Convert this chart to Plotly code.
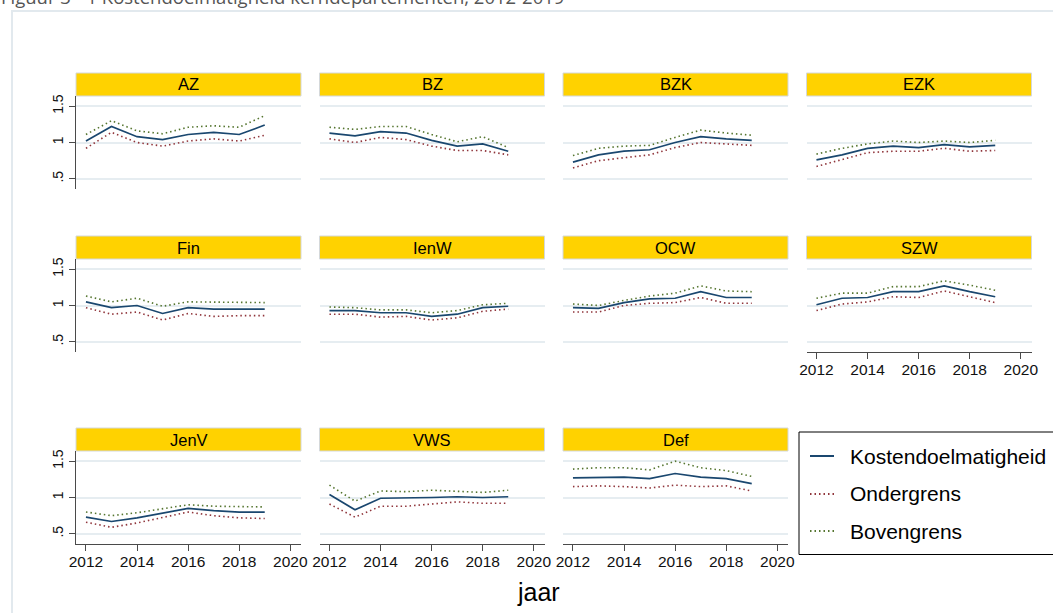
import plotly.graph_objects as go

# ---- data -------------------------------------------------------------
years = [2012, 2013, 2014, 2015, 2016, 2017, 2018, 2019]

departments = ["AZ", "BZ", "BZK", "EZK", "Fin", "IenW", "OCW", "SZW",
               "JenV", "VWS", "Def"]

kostendoelmatigheid = {
    "AZ":   [1.02, 1.22, 1.08, 1.04, 1.11, 1.14, 1.11, 1.24],
    "BZ":   [1.13, 1.09, 1.15, 1.13, 1.03, 0.95, 0.98, 0.88],
    "BZK":  [0.73, 0.83, 0.88, 0.90, 1.00, 1.08, 1.05, 1.03],
    "EZK":  [0.76, 0.83, 0.92, 0.95, 0.93, 0.97, 0.94, 0.96],
    "Fin":  [1.05, 0.97, 1.00, 0.89, 0.97, 0.95, 0.95, 0.95],
    "IenW": [0.93, 0.93, 0.90, 0.90, 0.85, 0.88, 0.97, 0.99],
    "OCW":  [0.97, 0.96, 1.04, 1.09, 1.10, 1.19, 1.11, 1.11],
    "SZW":  [1.01, 1.10, 1.11, 1.19, 1.19, 1.27, 1.19, 1.12],
    "JenV": [0.73, 0.67, 0.72, 0.78, 0.85, 0.82, 0.80, 0.80],
    "VWS":  [1.04, 0.83, 0.99, 0.99, 1.00, 1.01, 1.00, 1.01],
    "Def":  [1.27, 1.28, 1.28, 1.26, 1.33, 1.28, 1.26, 1.19],
}

ondergrens = {
    "AZ":   [0.92, 1.14, 1.00, 0.95, 1.02, 1.05, 1.02, 1.10],
    "BZ":   [1.05, 1.00, 1.07, 1.04, 0.95, 0.89, 0.89, 0.83],
    "BZK":  [0.65, 0.75, 0.79, 0.83, 0.93, 1.00, 0.98, 0.96],
    "EZK":  [0.67, 0.76, 0.86, 0.88, 0.88, 0.92, 0.88, 0.89],
    "Fin":  [0.97, 0.88, 0.91, 0.80, 0.89, 0.85, 0.86, 0.86],
    "IenW": [0.88, 0.88, 0.84, 0.85, 0.80, 0.83, 0.92, 0.95],
    "OCW":  [0.91, 0.91, 1.00, 1.03, 1.04, 1.11, 1.03, 1.03],
    "SZW":  [0.93, 1.02, 1.05, 1.12, 1.11, 1.20, 1.12, 1.04],
    "JenV": [0.66, 0.59, 0.65, 0.72, 0.80, 0.75, 0.72, 0.71],
    "VWS":  [0.91, 0.73, 0.88, 0.88, 0.91, 0.94, 0.92, 0.92],
    "Def":  [1.15, 1.16, 1.15, 1.13, 1.17, 1.15, 1.16, 1.09],
}

bovengrens = {
    "AZ":   [1.11, 1.30, 1.16, 1.12, 1.21, 1.23, 1.21, 1.37],
    "BZ":   [1.21, 1.18, 1.22, 1.22, 1.11, 1.01, 1.08, 0.93],
    "BZK":  [0.82, 0.92, 0.95, 0.96, 1.07, 1.17, 1.13, 1.10],
    "EZK":  [0.84, 0.92, 0.98, 1.02, 1.00, 1.02, 1.00, 1.03],
    "Fin":  [1.13, 1.05, 1.10, 0.99, 1.05, 1.05, 1.05, 1.04],
    "IenW": [0.98, 0.97, 0.94, 0.94, 0.90, 0.93, 1.01, 1.03],
    "OCW":  [1.02, 1.00, 1.07, 1.13, 1.17, 1.27, 1.20, 1.19],
    "SZW":  [1.10, 1.17, 1.17, 1.26, 1.26, 1.34, 1.28, 1.21],
    "JenV": [0.80, 0.75, 0.79, 0.85, 0.90, 0.88, 0.87, 0.87],
    "VWS":  [1.17, 0.95, 1.09, 1.08, 1.10, 1.09, 1.07, 1.10],
    "Def":  [1.39, 1.41, 1.41, 1.38, 1.50, 1.41, 1.37, 1.29],
}

series_names = ["Kostendoelmatigheid", "Ondergrens", "Bovengrens"]
y_ticks = [0.5, 1.0, 1.5]
y_ticktext = [".5", "1", "1.5"]
x_ticks = [2012, 2014, 2016, 2018, 2020]

# ---- styling ----------------------------------------------------------
W, H = 1053, 613
FONT = "Arial, Liberation Sans, sans-serif"
NAVY = "#1a476f"
MAROON = "#90353b"
GREEN = "#55752f"
STRIP = "#ffd200"
GRID = "#e6edf1"
AXIS = "#4a4a4a"

col_left = [76, 319.5, 563, 806.5]
col_w = 225
row_top = [96, 259, 451]
plot_h = 93
strip_h = 23

styles = [
    dict(color=NAVY, width=1.7),
    dict(color=MAROON, width=1.6, dash="1.5px,3px"),
    dict(color=GREEN, width=1.6, dash="1.5px,3px"),
]
data_sets = [kostendoelmatigheid, ondergrens, bovengrens]

fig = go.Figure()
layout = {}
shapes = []
annotations = []


def px_x(v):
    return v / W


def px_y(v):
    return 1 - v / H


for i, dep in enumerate(departments):
    r, c = divmod(i, 4)
    n = i + 1
    xname = "xaxis" if n == 1 else f"xaxis{n}"
    yname = "yaxis" if n == 1 else f"yaxis{n}"
    xref = "x" if n == 1 else f"x{n}"
    yref = "y" if n == 1 else f"y{n}"

    left = col_left[c]
    top = row_top[r]

    for name, ds, st in zip(series_names, data_sets, styles):
        fig.add_trace(go.Scatter(
            x=years, y=ds[dep], mode="lines", name=name,
            line=st, showlegend=False, xaxis=xref, yaxis=yref,
            hoverinfo="x+y+name",
        ))

    show_x = (r == 2) or dep == "SZW"
    show_y = c == 0

    layout[xname] = dict(
        domain=[px_x(left), px_x(left + col_w)],
        anchor=yref,
        range=[2011.61, 2020.42],
        tickvals=x_ticks,
        showgrid=False, zeroline=False, automargin=False,
        showline=show_x, linecolor=AXIS, linewidth=1.3,
        ticks="outside" if show_x else "", ticklen=6, tickwidth=1.3,
        tickcolor=AXIS, ticklabelstandoff=-3,
        showticklabels=show_x,
        tickfont=dict(family=FONT, size=15.5, color="#111"),
    )
    layout[yname] = dict(
        domain=[px_y(top + plot_h), px_y(top)],
        anchor=xref,
        range=[0.36, 1.64],
        tickvals=y_ticks, ticktext=y_ticktext,
        showgrid=True, gridcolor=GRID, gridwidth=1.5,
        zeroline=False, automargin=False,
        showline=show_y, linecolor=AXIS, linewidth=1.3,
        ticks="outside" if show_y else "", ticklen=6, tickwidth=1.3,
        tickcolor=AXIS,
        showticklabels=show_y, tickangle=-90,
        tickfont=dict(family=FONT, size=14, color="#111"),
    )

    # panel header strip
    shapes.append(dict(
        type="rect", xref="paper", yref="paper",
        x0=px_x(left), x1=px_x(left + col_w),
        y0=px_y(top), y1=px_y(top - strip_h),
        fillcolor=STRIP, line=dict(color="#d4d8da", width=1),
        layer="above",
    ))
    annotations.append(dict(
        text=dep, xref="paper", yref="paper",
        x=px_x(left + col_w / 2), y=px_y(top - strip_h / 2),
        xanchor="center", yanchor="middle", showarrow=False,
        font=dict(family=FONT, size=16.5, color="#000"),
    ))

# outer graph-region frame
shapes.insert(0, dict(
    type="rect", xref="paper", yref="paper",
    x0=px_x(12), x1=px_x(1100), y0=px_y(680), y1=px_y(11),
    line=dict(color="#e2e9ee", width=2), fillcolor="rgba(0,0,0,0)",
    layer="below",
))

# legend box
leg_left, leg_top, leg_bottom = 799, 432, 554.5
shapes.append(dict(
    type="rect", xref="paper", yref="paper",
    x0=px_x(leg_left), x1=px_x(1100), y0=px_y(leg_bottom), y1=px_y(leg_top),
    line=dict(color="#000", width=1), fillcolor="white",
))
leg_rows = [456, 494, 531]
for name, st, yy in zip(series_names, styles, leg_rows):
    shapes.append(dict(
        type="line", xref="paper", yref="paper",
        x0=px_x(810), x1=px_x(834), y0=px_y(yy), y1=px_y(yy),
        line=dict(color=st["color"], width=st["width"] + 0.3,
                  dash=st.get("dash", "solid")),
    ))
    annotations.append(dict(
        text=name, xref="paper", yref="paper",
        x=px_x(848), y=px_y(yy), xanchor="left", yanchor="middle",
        showarrow=False, font=dict(family=FONT, size=21, color="#000"),
    ))

# x-axis title
annotations.append(dict(
    text="jaar", xref="paper", yref="paper",
    x=px_x(538), y=px_y(592), xanchor="center", yanchor="middle",
    showarrow=False, font=dict(family=FONT, size=25, color="#000"),
))

# page caption above the graph
annotations.append(dict(
    text="Figuur 3 - 1 Kostendoelmatigheid kerndepartementen, 2012-2019",
    xref="paper", yref="paper", x=px_x(-1), y=px_y(-3.5),
    xanchor="left", yanchor="middle", showarrow=False,
    font=dict(family="Open Sans, sans-serif", size=18.5, color="#555"),
))

fig.update_layout(
    width=W, height=H,
    margin=dict(l=0, r=0, t=0, b=0, autoexpand=False),
    paper_bgcolor="white", plot_bgcolor="white",
    shapes=shapes, annotations=annotations,
    showlegend=False,
    **layout,
)

fig.write_html("out.html")
